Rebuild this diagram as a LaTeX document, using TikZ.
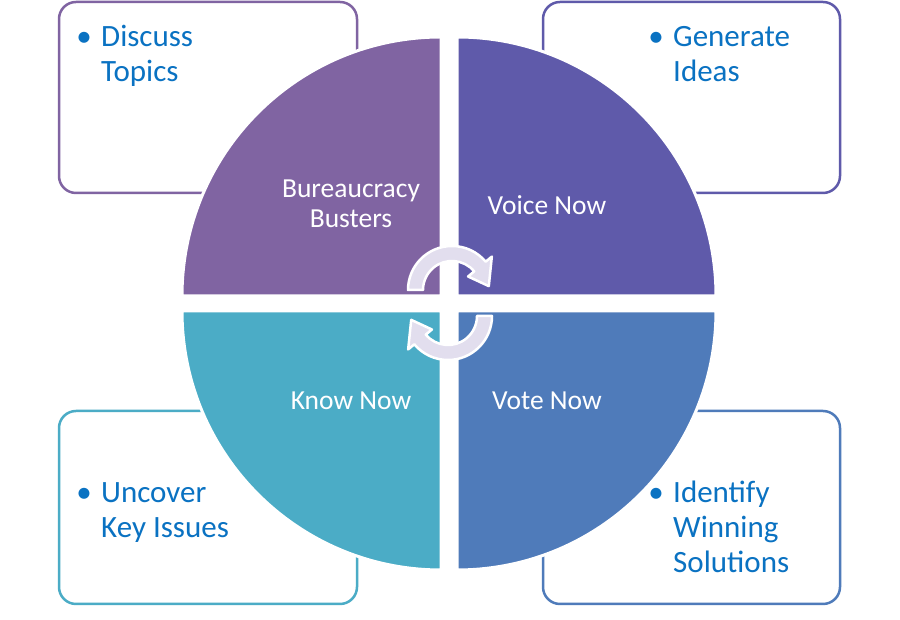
\documentclass[tikz,border=0pt]{standalone}
\usepackage{fontspec}
\setmainfont{Carlito}
\usepackage{tikz}

\definecolor{quadTL}{HTML}{8064A2}
\definecolor{quadTR}{HTML}{5F5AAA}
\definecolor{quadBL}{HTML}{4BACC6}
\definecolor{quadBR}{HTML}{4F7BBA}
\definecolor{itemblue}{HTML}{0A72C2}
\definecolor{cyclefill}{HTML}{E2DEEE}

\tikzset{
  card/.style={line width=2.5pt, rounded corners=17pt, fill=white},
  quarter/.style={draw=white, line width=3pt, line join=round},
  quartertext/.style={text=white, font=\fontsize{27.5}{30}\selectfont, align=center},
  itemtext/.style={text=itemblue, font=\fontsize{31}{35}\selectfont, align=left, anchor=base west, inner sep=0pt},
  itembullet/.style={text=itemblue, font=\fontsize{31}{35}\selectfont, anchor=base, inner sep=0pt},
  cyclearrow/.style={fill=cyclefill, draw=white, line width=2.5pt, line join=round}
}

\begin{document}
\begin{tikzpicture}[x=1pt, y=1pt, line cap=round, line join=round]
  \useasboundingbox[fill=white] (0,0) rectangle (900,620);

  % Corners of the four quarters
  \coordinate (tl) at (441,324);
  \coordinate (tr) at (457,324);
  \coordinate (bl) at (441,309);
  \coordinate (br) at (457,309);
  \coordinate (ctop) at (452,330);
  \coordinate (cbot) at (448,304);

  % Cards
  \draw[card, draw=quadTL] (59,427) rectangle (357,618);
  \draw[card, draw=quadTR] (543,427) rectangle (840,618);
  \draw[card, draw=quadBL] (59,16) rectangle (357,209);
  \draw[card, draw=quadBR] (543,16) rectangle (840,209);

  % Card items (text nodes sit on the baseline of their last line)
  \node[itembullet] (b1) at (84,573) {•};
  \node[itemtext] (discuss) at (101,538) {Discuss\\Topics};
  \node[itembullet] (b2) at (656,573) {•};
  \node[itemtext] (generate) at (673,538) {Generate\\Ideas};
  \node[itembullet] (b3) at (84,117) {•};
  \node[itemtext] (uncover) at (101,82) {Uncover\\Key Issues};
  \node[itembullet] (b4) at (656,117) {•};
  \node[itemtext] (identify) at (673,47) {Identify\\Winning\\Solutions};

  % Quarters
  \filldraw[quarter, fill=quadTL] (tl) -- ++(-259,0) arc[start angle=180, end angle=90, radius=259] -- cycle;
  \filldraw[quarter, fill=quadTR] (tr) -- ++(0,259) arc[start angle=90, end angle=0, radius=259] -- cycle;
  \filldraw[quarter, fill=quadBL] (bl) -- ++(-259,0) arc[start angle=180, end angle=270, radius=259] -- cycle;
  \filldraw[quarter, fill=quadBR] (br) -- ++(259,0) arc[start angle=0, end angle=-90, radius=259] -- cycle;

  % Quarter labels
  \node[quartertext] (busters) at (351,416) {Bureaucracy\\Busters};
  \node[quartertext] (voice) at (547,415) {Voice Now};
  \node[quartertext] (know) at (351,219) {Know Now};
  \node[quartertext] (vote) at (547,219) {Vote Now};

  % Cycle arrows
  \filldraw[cyclearrow] ([shift={(180:44)}]ctop) arc[start angle=180, end angle=40, radius=44]
    -- ([shift={(40:52)}]ctop) -- ([shift={(6:37)}]ctop) -- ([shift={(40:21)}]ctop)
    -- ([shift={(40:29)}]ctop) arc[start angle=40, end angle=180, radius=29] -- cycle;
  \filldraw[cyclearrow] ([shift={(0:44)}]cbot) arc[start angle=0, end angle=-140, radius=44]
    -- ([shift={(220:52)}]cbot) -- ([shift={(186:37)}]cbot) -- ([shift={(220:21)}]cbot)
    -- ([shift={(220:29)}]cbot) arc[start angle=-140, end angle=0, radius=29] -- cycle;
\end{tikzpicture}
\end{document}
